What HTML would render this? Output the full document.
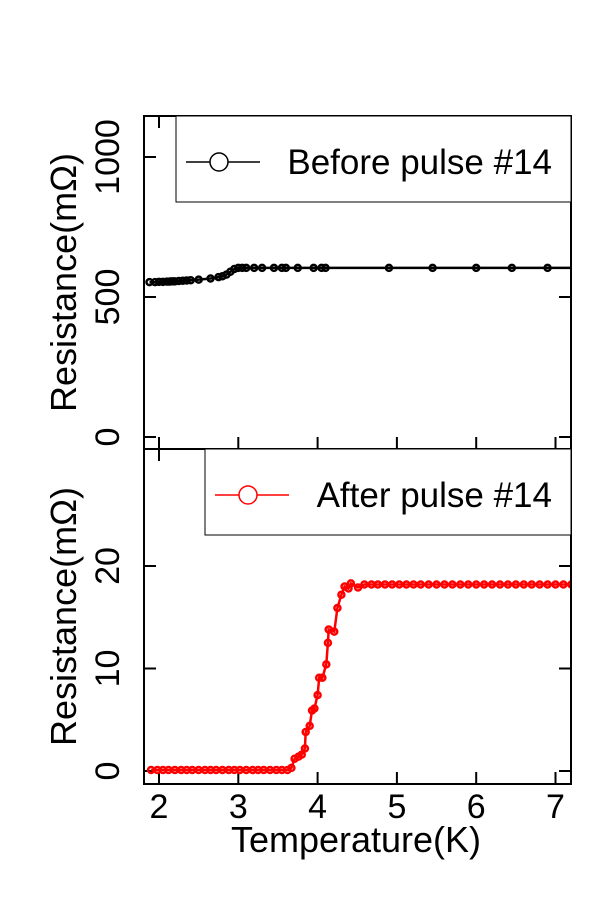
<!DOCTYPE html>
<html><head><meta charset="utf-8"><style>
html,body{margin:0;padding:0;background:#fff;}
svg{display:block;font-family:"Liberation Sans",Arial,sans-serif;}
</style></head><body>
<svg id="chart" width="600" height="900">
<defs>
<clipPath id="clipTop"><rect x="144" y="116" width="427" height="333"/></clipPath>
<clipPath id="clipBot"><rect x="144" y="449" width="427" height="335"/></clipPath>
</defs>
<g id="g"></g>
</svg>
<script>
// X ticks
const xTicks = [2,3,4,5,6,7];
// Top panel data (before pulse)
const topT = [1.88,1.95,2.0,2.05,2.1,2.13,2.15,2.18,2.2,2.25,2.3,2.35,2.4,2.5,2.65,2.75,2.8,2.85,2.9,2.95,3.0,3.05,3.1,3.2,3.3,3.45,3.55,3.6,3.75,3.95,4.05,4.1,4.9,5.45,6.0,6.45,6.9,7.3];
const topR = [553,553,554,554,555,555,556,556,556,557,558,559,560,562,566,571,574,580,590,600,604,604,604,604,604,604,604,604,604,604,604,604,604,604,604,604,604,604];
const topYTicks = [0,500,1000];
// Bottom panel data (after pulse)
const botT = [1.9,1.98,2.05,2.12,2.2,2.28,2.35,2.42,2.5,2.58,2.65,2.72,2.8,2.88,2.95,3.02,3.1,3.18,3.25,3.32,3.4,3.48,3.55,3.62,3.67,3.71,3.76,3.80,3.84,3.85,3.90,3.93,3.96,4.0,4.02,4.06,4.11,4.13,4.14,4.21,4.25,4.30,4.34,4.39,4.42,4.51,4.59,4.68,4.76,4.85,4.94,5.03,5.12,5.21,5.3,5.4,5.5,5.6,5.7,5.8,5.9,6.0,6.1,6.2,6.3,6.4,6.5,6.6,6.7,6.8,6.9,7.0,7.1,7.2];
const botR = [0.1,0.1,0.1,0.1,0.1,0.1,0.1,0.1,0.1,0.1,0.1,0.1,0.1,0.1,0.1,0.1,0.1,0.1,0.1,0.1,0.1,0.1,0.1,0.1,0.3,1.2,1.4,1.6,2.2,3.8,4.4,5.9,6.1,7.4,9.1,9.1,10.4,12.5,13.8,13.6,15.9,17.2,18.0,17.8,18.3,17.9,18.2,18.2,18.2,18.2,18.2,18.2,18.2,18.2,18.2,18.2,18.2,18.2,18.2,18.2,18.2,18.2,18.2,18.2,18.2,18.2,18.2,18.2,18.2,18.2,18.2,18.2,18.2,18.2];
const botYTicks = [0,10,20];

const NS="http://www.w3.org/2000/svg";
const g=document.getElementById('g');
function mk(tag,attrs,parent){const e=document.createElementNS(NS,tag);for(const k in attrs)e.setAttribute(k,attrs[k]);(parent||g).appendChild(e);return e;}
const L=144,R=571;
function xs(t){return 159+(t-2)*79.3;}
function yTop(v){return 437-v*0.28;}
function yBot(v){return 771-v*10.25;}

function panel(top,bot,T,Rv,ys,yticks,color,name,legText,legX,clip){
  const pg=mk('g',{});
  
  
  xTicks.forEach(t=>{
    const a=mk('line',{x1:xs(t),x2:xs(t),y1:bot,y2:bot-12,stroke:'#000','stroke-width':2},pg);
    
    
    const b=mk('line',{x1:xs(t),x2:xs(t),y1:top,y2:top+12,stroke:'#000','stroke-width':2},pg);
    
    
  });
  yticks.forEach(v=>{
    const y=ys(v);
    const a=mk('line',{x1:L,x2:L+12,y1:y,y2:y,stroke:'#000','stroke-width':2},pg);
    
    
    const b=mk('line',{x1:R,x2:R-12,y1:y,y2:y,stroke:'#000','stroke-width':2},pg);
    
    
    const tx=mk('text',{x:0,y:0,'font-size':34,'text-anchor':'middle',transform:`translate(119,${y}) rotate(-90)`},pg);
    tx.textContent=v;
    
    
  });
  const dg=mk('g',{'clip-path':`url(#${clip})`},pg);
  
  
  const d=T.map((t,i)=>(i?'L':'M')+xs(t).toFixed(1)+','+ys(Rv[i]).toFixed(1)).join(' ');
  const ln=mk('path',{d:d,fill:'none',stroke:color,'stroke-width':2.5},dg);
  
  
  T.forEach((t,i)=>{
    if(t>7.2)return;
    const c=mk('circle',{cx:xs(t),cy:ys(Rv[i]),r:3,fill:'none',stroke:color,'stroke-width':2.5},dg);
    
    
  });
  const box=mk('rect',{x:L,y:top,width:R-L,height:bot-top,fill:'none',stroke:'#000','stroke-width':2},pg);
  
  
  const lb=mk('rect',{x:legX,y:top,width:R-legX,height:86,fill:'#fff',stroke:'#000','stroke-width':1},pg);
  
  
  const my=top+46;
  const ll=mk('line',{x1:legX+10,x2:legX+84,y1:my,y2:my,stroke:color,'stroke-width':1.5},pg);
  
  
  const lc=mk('circle',{cx:legX+43,cy:my,r:9,fill:'#fff',stroke:color,'stroke-width':1.5},pg);
  
  
  const lt=mk('text',{x:R-19,y:my+12,'font-size':35,'text-anchor':'end'},pg);
  lt.textContent=legText;
  
  
  const yt=mk('text',{x:0,y:0,'font-size':36,'text-anchor':'middle',transform:`translate(76,${(top+bot)/2}) rotate(-90)`},pg);
  yt.textContent='Resistance(mΩ)';
  
  
}
panel(116,449,topT,topR,yTop,topYTicks,'#000','before','Before pulse #14',176,'clipTop');
panel(449,784,botT,botR,yBot,botYTicks,'#ff0000','after','After pulse #14',205,'clipBot');
xTicks.forEach(t=>{
  const tx=mk('text',{x:xs(t),y:818,'font-size':34,'text-anchor':'middle'});
  tx.textContent=t;
  
  
});
const xt=mk('text',{x:356,y:852,'font-size':36,'text-anchor':'middle'});
xt.textContent='Temperature(K)';


</script>
</body></html>
